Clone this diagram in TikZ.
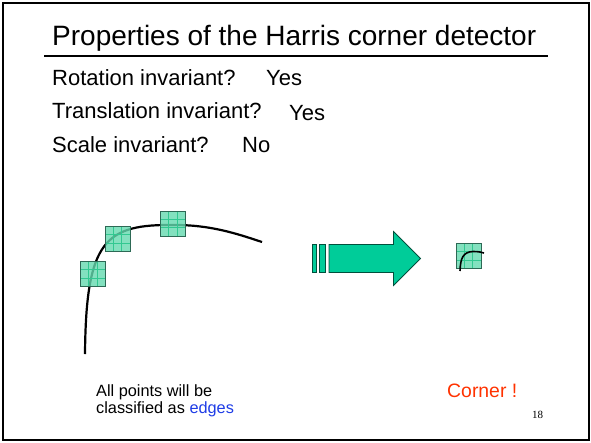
\documentclass[tikz,border=0pt]{standalone}
\usepackage{fontspec}
\setmainfont{Liberation Sans}
\newfontfamily\serifnum{Liberation Serif}
\definecolor{sqfill}{RGB}{100,218,175}
\definecolor{sqline}{RGB}{45,105,85}
\definecolor{sqgrid}{RGB}{50,200,145}
\definecolor{arrfill}{RGB}{0,204,153}
\definecolor{arrline}{RGB}{0,80,60}
\definecolor{edgeblue}{RGB}{30,60,230}
\definecolor{cornerred}{RGB}{255,50,0}
\newcommand\gridsq[2]{%
  \fill[sqfill,opacity=0.8] (#1,#2) rectangle ++(25,25);
  \foreach \k in {8.33,16.67}{
    \draw[sqgrid,line width=0.8pt] (#1+\k,#2) -- ++(0,25);
    \draw[sqgrid,line width=0.8pt] (#1,#2+\k) -- ++(25,0);
  }
  \draw[sqline,line width=0.9pt] (#1,#2) rectangle ++(25,25);
}
\begin{document}
\begin{tikzpicture}[x=1pt,y=-1pt,
  title/.style={anchor=base west,inner sep=0pt,font=\fontsize{28}{30}\selectfont},
  body/.style={anchor=base west,inner sep=0pt,font=\fontsize{22}{24}\selectfont},
  small/.style={anchor=base west,inner sep=0pt,font=\fontsize{16.3}{18}\selectfont}]
\useasboundingbox (0,0) rectangle (591,442);
\draw[line width=1.6pt] (3,3) rectangle (589,440);
\node[title] (t) at (52,45) {Properties of the Harris corner detector};
\draw[line width=1.6pt] (44,56) -- (548,56);
\node[body] (l1) at (52,85) {Rotation invariant?};
\node[body] (y1) at (266,85) {Yes};
\node[body] (l2) at (52,118) {Translation invariant?};
\node[body] (y2) at (289,120) {Yes};
\node[body] (l3) at (52,152) {Scale invariant?};
\node[body] (n3) at (242,152) {No};
% curve
\draw[line width=2.2pt] (85,354) .. controls (86,240) and (105,224) .. (175,225)
  .. controls (210,225) and (235,233) .. (262,242);
\gridsq{80.5}{261.5}
\gridsq{105}{226.5}
\gridsq{160.5}{211}
% arrow
\filldraw[fill=arrfill,draw=arrline,line width=0.8pt] (312.5,244.5) rectangle (316,272.5);
\filldraw[fill=arrfill,draw=arrline,line width=0.8pt] (319,244.5) rectangle (325.5,272.5);
\filldraw[fill=arrfill,draw=arrline,line width=0.8pt] (329,244.5) -- (393.5,244.5) -- (393.5,231.5)
  -- (420.5,258.5) -- (393.5,285.5) -- (393.5,272.5) -- (329,272.5) -- cycle;
% small square with corner
\gridsq{456}{243.5}
\draw[line width=1.6pt] (460,271) .. controls (460.5,258) and (463,252) .. (473,251.5)
  .. controls (478,251.5) and (481,252) .. (484,253);
\node[small] (a1) at (96,396) {All points will be};
\node[small] (a2) at (96,413) {classified as \textcolor{edgeblue}{edges}};
\node[anchor=base west,inner sep=0pt,font=\fontsize{19.4}{21}\selectfont,text=cornerred] (c) at (447,397) {Corner !};
\node[anchor=base west,inner sep=0pt,font=\serifnum\fontsize{11}{12}\selectfont] (pg) at (532,418) {18};
\end{tikzpicture}
\end{document}
